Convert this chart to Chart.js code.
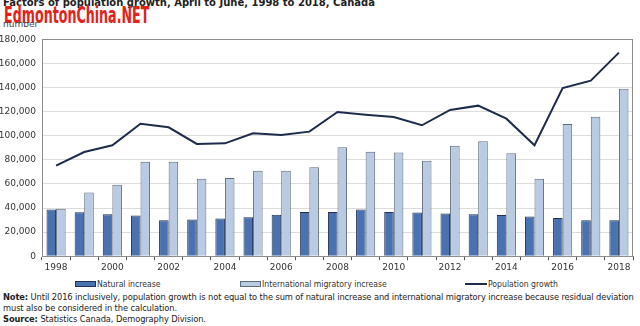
<!DOCTYPE html>
<html><head><meta charset="utf-8">
<script src="https://cdn.jsdelivr.net/npm/chart.js@4"></script>
<style>
html,body{margin:0;padding:0;background:#fff;width:640px;height:326px;overflow:hidden;font-family:"DejaVu Sans",Verdana,sans-serif;}
#title{position:absolute;left:3px;top:-3px;font-weight:bold;font-size:10px;color:#222;white-space:nowrap;}
#wm{position:absolute;left:4px;top:2px;font-family:"DejaVu Sans Condensed","DejaVu Sans",sans-serif;font-weight:bold;font-size:22px;color:#e2231a;white-space:nowrap;transform-origin:0 0;transform:scale(0.64,1.05);}
#unit{position:absolute;left:3px;top:19px;font-size:9px;color:#444;}
#wrap{position:absolute;left:0;top:28px;width:640px;height:247px;}
#legend{position:absolute;left:0;top:278px;width:640px;height:12px;font-family:"DejaVu Sans Condensed","DejaVu Sans",sans-serif;font-size:8.6px;color:#333;}
#legend .it{position:absolute;top:0;white-space:nowrap;line-height:12px;}
#legend .sw{display:inline-block;vertical-align:middle;margin-right:1px;position:relative;top:-1px;}
#notes{position:absolute;left:3px;top:292px;font-size:8.3px;color:#222;line-height:11px;width:636px;letter-spacing:-0.1px;}
</style></head><body>
<div id="title">Factors of population growth, April to June, 1998 to 2018, Canada</div>
<div id="wm">EdmontonChina.NET</div>
<div id="unit">number</div>
<div id="wrap"><canvas id="c" width="640" height="247"></canvas></div>
<div id="legend"></div>
<div id="notes"><b>Note:</b> Until 2016 inclusively, population growth is not equal to the sum of natural increase and international migratory increase because residual deviation must also be considered in the calculation.<br><b>Source:</b> Statistics Canada, Demography Division.</div>
<script>
const years = ['1998','1999','2000','2001','2002','2003','2004','2005','2006','2007','2008','2009','2010','2011','2012','2013','2014','2015','2016','2017','2018'];
const naturalIncrease = [38700,36500,34800,33700,29900,30400,31200,32300,34500,36700,36700,38700,36700,36200,35400,34800,34300,32900,31800,29900,29900];
const internationalMigratory = [39300,52800,59400,78500,78500,64400,65000,71000,71000,73800,90400,86800,86000,79300,91800,95400,85400,64400,109700,115800,139100];
const populationGrowth = [75200,86500,92100,110000,107000,93200,93700,102000,100600,103400,119700,117500,115600,108700,121400,125000,114200,92100,139600,145700,169000];
const yTicks = [0,20000,40000,60000,80000,100000,120000,140000,160000,180000];

const boxPlugin = {
  id:'box',
  afterDraw(chart){
    const a = chart.chartArea, ctx = chart.ctx;
    ctx.save();
    ctx.strokeStyle = '#8c8c8c';
    ctx.lineWidth = 1;
    ctx.strokeRect(Math.round(a.left)+0.5, Math.round(a.top)+0.5, Math.round(a.right-a.left)-1, Math.round(a.bottom-a.top));
    ctx.restore();
  }
};

const chart = new Chart(document.getElementById('c'), {
  data: {
    labels: years,
    datasets: [
      {type:'line', label:'Population growth', data: populationGrowth, borderColor:'#1d2b4c', backgroundColor:'#1d2b4c', borderWidth:2, pointRadius:0, tension:0, order:0},
      {type:'bar', label:'Natural increase', data: naturalIncrease, backgroundColor:'#4a72b0', borderColor:'#1e2f52', borderWidth:1, barPercentage:1, categoryPercentage:0.68, order:1},
      {type:'bar', label:'International migratory increase', data: internationalMigratory, backgroundColor:'#b9cbe3', borderColor:'#5c6a7c', borderWidth:1, barPercentage:1, categoryPercentage:0.68, order:1}
    ]
  },
  options: {
    responsive:false, animation:false,
    layout:{padding:{left:0,right:7,top:6,bottom:0}},
    plugins:{ tooltip:{enabled:false}, legend:{display:false} },
    scales:{
      x:{
        offset:true,
        grid:{display:true, drawOnChartArea:false, drawTicks:true, tickLength:4, offset:true, color:'#555'},
        border:{display:true, color:'#8c8c8c'},
        ticks:{autoSkip:false, maxRotation:0, color:'#333', font:{family:'DejaVu Sans', size:9}, padding:2,
          callback:function(v,i){ const l = years[i]; return (parseInt(l)%2===0)? l : ''; }}
      },
      y:{
        min:0, max:180000,
        afterBuildTicks:(s)=>{ s.ticks = yTicks.map(v=>({value:v})); },
        afterFit:(s)=>{ s.width = 42; },
        grid:{color:'#dcdcdc', drawTicks:false},
        border:{display:true, color:'#8c8c8c'},
        ticks:{color:'#333', padding:6, font:{family:'DejaVu Sans', size:9},
          callback:(v)=> v.toLocaleString('en-US')}
      }
    }
  }
  ,plugins:[boxPlugin]
});

// HTML legend built from the chart's datasets
const legendOrder = [1,2,0];
const legendX = [75,240,465];
const leg = document.getElementById('legend');
legendOrder.forEach((di,k)=>{
  const ds = chart.data.datasets[di];
  const it = document.createElement('div'); it.className='it'; it.style.left = legendX[k]+'px';
  const sw = document.createElement('span'); sw.className='sw';
  if (ds.type==='line') { sw.style.width='22px'; sw.style.height='0px'; sw.style.borderTop='2px solid '+ds.borderColor; }
  else { sw.style.width='19px'; sw.style.height='4px'; sw.style.background=ds.backgroundColor; sw.style.border='1px solid '+ds.borderColor; }
  it.appendChild(sw);
  it.appendChild(document.createTextNode(ds.label));
  leg.appendChild(it);
});
</script>
</body></html>
